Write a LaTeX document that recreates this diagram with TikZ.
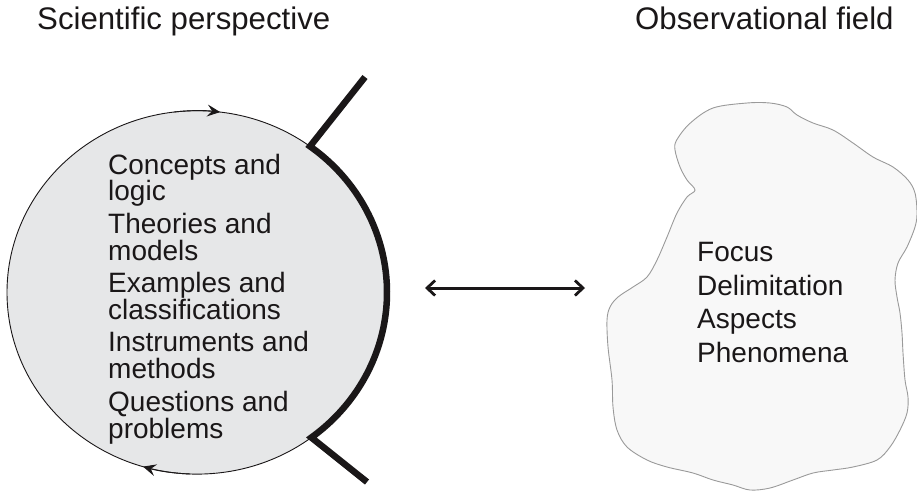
\documentclass[tikz,border=0pt]{standalone}
\usepackage{fontspec}
\setmainfont{Liberation Sans}
\usetikzlibrary{arrows.meta}
\definecolor{txt}{HTML}{1A1718}
\definecolor{circfill}{HTML}{E6E7E8}
\definecolor{blobfill}{HTML}{F8F8F8}
\definecolor{blobline}{HTML}{9A9A9A}
\begin{document}
\begin{tikzpicture}[x=1pt,y=-1pt,
  title/.style={anchor=base west, inner sep=0pt, font=\fontsize{31.2}{31.2}\selectfont, text=txt},
  item/.style={anchor=base west, inner sep=0pt, font=\fontsize{28}{28}\selectfont, text=txt},
  thickline/.style={line width=6.5pt, draw=txt, line join=miter},
  cyc/.style={-{Stealth[length=13pt,width=12pt,inset=5pt]}, line width=0.9pt, draw=txt},
  both/.style={{Straight Barb[length=8pt,width=15pt,line width=2.8pt]}-{Straight Barb[length=8pt,width=15pt,line width=2.8pt]}, line width=3pt, draw=txt}
]
\useasboundingbox (0,0) rectangle (917,491);

% titles
\node[title] (t1) at (37,29) {Scientific perspective};
\node[title] (t2) at (635,29) {Observational field};

% circle
\coordinate (C) at (197,292.4);
\fill[circfill] (C) ellipse [x radius=190pt, y radius=181.7pt];
\draw[line width=0.9pt, txt] (C) ellipse [x radius=190pt, y radius=181.7pt];
\draw[cyc] ([shift={(97:190pt and 181.7pt)}]C) arc[start angle=97, end angle=83, x radius=190pt, y radius=181.7pt];
\draw[cyc] ([shift={(-92:190pt and 181.7pt)}]C) arc[start angle=-92, end angle=-106.5, x radius=190pt, y radius=181.7pt];

% thick bracket
\coordinate (U) at ([shift={(53.5:190pt and 181.7pt)}]C);
\coordinate (Uend) at (365,77);
\coordinate (Lend) at (367,482);
\draw[thickline] (Uend) -- (U) arc[start angle=53.5, end angle=-53, x radius=190pt, y radius=181.7pt] -- (Lend);

% circle texts
\node[item] (c1) at (108,174.5) {Concepts and};
\node[item] (c2) at (108,200.5) {logic};
\node[item] (c3) at (108,233) {Theories and};
\node[item] (c4) at (108,260) {models};
\node[item] (c5) at (108,292) {Examples and};
\node[item] (c6) at (108,319) {classifications};
\node[item] (c7) at (108,351.5) {Instruments and};
\node[item] (c8) at (108,378) {methods};
\node[item] (c9) at (108,411.5) {Questions and};
\node[item] (c10) at (108,438) {problems};

% blob
\draw[blobline, fill=blobfill, line width=0.9pt] plot[smooth cycle, tension=0.55] coordinates {
(676.7,140) (690,123.3) (713,108) (747,103) (770,103) (787,107) (797,115) (813,123)
(833,130) (853,143) (873,157) (893,167) (908,180) (915,193) (917,213) (915,227)
(907,247) (898,263) (895,280) (897,297) (900,313) (902,333) (903,353) (905,380)
(908,397) (907,413) (900,430) (890,447) (877,460) (853,467) (833,470) (813,473)
(793,480) (770,488) (750,490) (733,485) (713,480) (693,473) (667,467) (647,460)
(627,447) (617,430) (613,407) (612,380) (608,347) (607,320) (610,307) (618,297)
(633,287) (647,277) (657,260) (667,237) (677,213) (687,197) (695,190) (687,180)
(680,167) (675,150)};

\node[item] (f1) at (697,261.5) {Focus};
\node[item] (f2) at (697,295) {Delimitation};
\node[item] (f3) at (697,328.5) {Aspects};
\node[item] (f4) at (697,362) {Phenomena};

% double arrow
\coordinate (al) at (425,288);
\coordinate (ar) at (585,288);
\draw[both] (al) -- (ar);
\end{tikzpicture}
\end{document}
